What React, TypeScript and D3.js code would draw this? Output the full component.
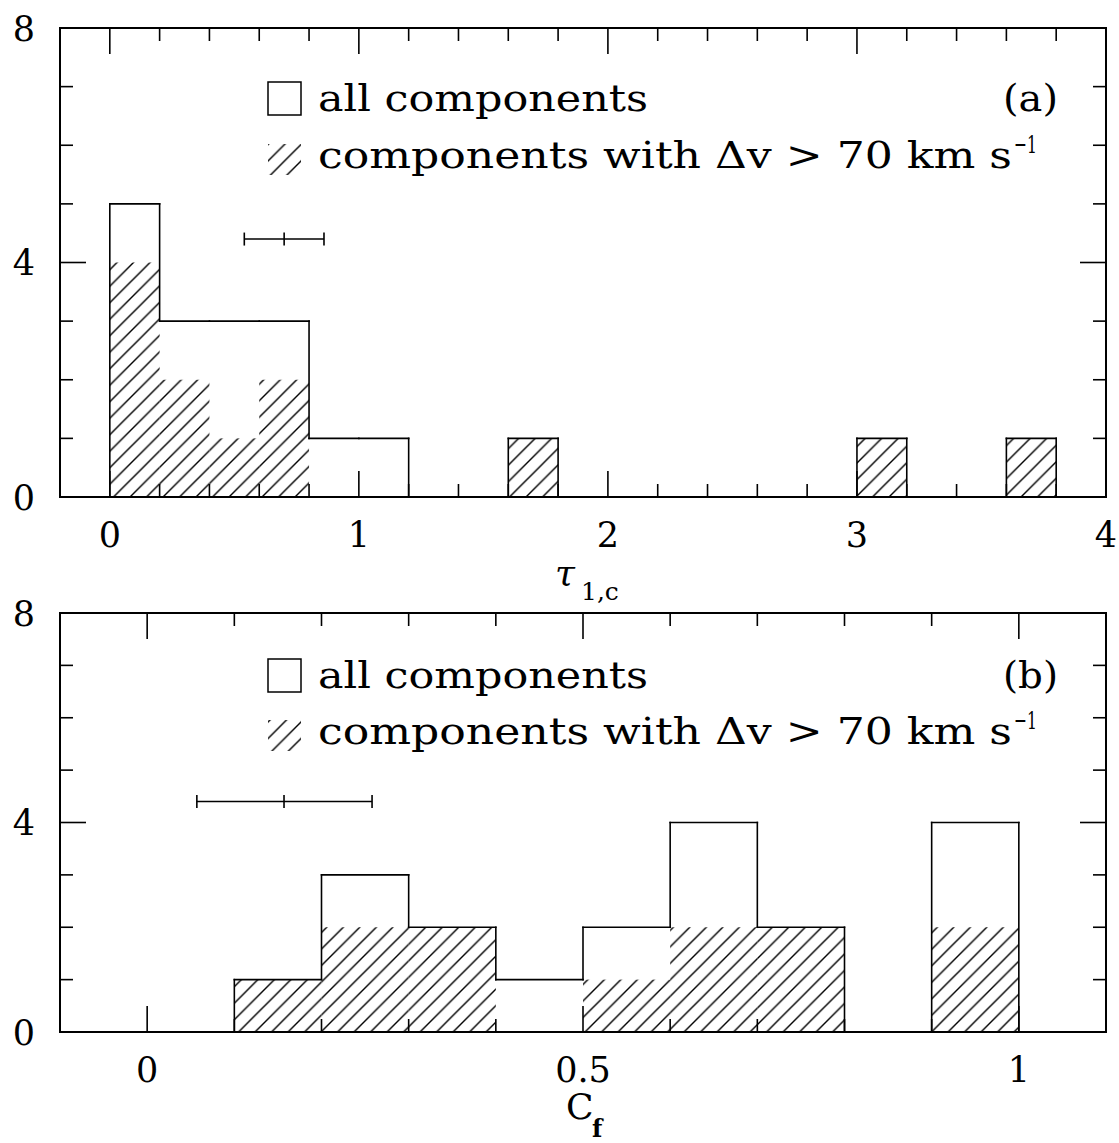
import React from "react";
import * as d3 from "d3";

// ---------- data ----------
const tauBinStart = [0.0, 0.2, 0.4, 0.6, 0.8, 1.0, 1.2, 1.4, 1.6, 1.8, 2.0, 2.2, 2.4, 2.6, 2.8, 3.0, 3.2, 3.4, 3.6];
const tauAll = [5, 3, 3, 3, 1, 1, 0, 0, 1, 0, 0, 0, 0, 0, 0, 1, 0, 0, 1];
const tauFast = [4, 2, 1, 2, 0, 0, 0, 0, 1, 0, 0, 0, 0, 0, 0, 1, 0, 0, 1];
const tauBinWidth = 0.2;
const tauErrBar = [0.54, 0.7, 0.86];
const tauXTickLabels = ["0", "1", "2", "3", "4"];

const cfBinStart = [0.1, 0.2, 0.3, 0.4, 0.5, 0.6, 0.7, 0.8, 0.9];
const cfAll = [1, 3, 2, 1, 2, 4, 2, 0, 4];
const cfFast = [1, 2, 2, 0, 1, 2, 2, 0, 2];
const cfBinWidth = 0.1;
const cfErrBar = [0.057, 0.157, 0.258];
const cfXTickLabels = ["0", "0.5", "1"];

const yTickLabels = ["0", "4", "8"];
const errBarY = 4.4;

const FONT = "DejaVu Serif, Liberation Serif, serif";

type PanelProps = {
  id: string;
  xDomain: [number, number];
  top: number;
  bottom: number;
  binStart: number[];
  binWidth: number;
  all: number[];
  fast: number[];
  errBar: number[];
  xMinorStep: number;
  xMajorStep: number;
  xMax: number;
  xTickLabels: string[];
  tag: string;
  legendBase1: number;
  legendBase2: number;
  title: React.ReactNode;
};

const L = 60;
const R = 1106;

function Panel(p: PanelProps) {
  const x = d3.scaleLinear().domain(p.xDomain).range([L, R]);
  const y = d3.scaleLinear().domain([0, 8]).range([p.bottom, p.top]);
  const eps = 1e-6;

  const xMinor = d3.range(0, p.xMax + eps, p.xMinorStep);
  const isMajorX = (v: number) => Math.abs(v / p.xMajorStep - Math.round(v / p.xMajorStep)) < 1e-6;
  const yTicks = d3.range(0, 8 + eps, 1);
  const MAJ = 26;
  const MIN = 13;

  const n = p.all.length;
  const segs: [number, number, number, number][] = [];
  for (let i = 0; i <= n; i++) {
    const prev = i > 0 ? p.all[i - 1] : 0;
    const cur = i < n ? p.all[i] : 0;
    const ex = i < n ? p.binStart[i] : p.binStart[n - 1] + p.binWidth;
    if (prev !== cur) segs.push([x(ex), y(prev), x(ex), y(cur)]);
    if (i < n && cur > 0) segs.push([x(p.binStart[i]), y(cur), x(p.binStart[i] + p.binWidth), y(cur)]);
  }

  const patId = "hatch-" + p.id;
  const sp = 16.5;

  return (
    <g>
      <defs>
        <pattern id={patId} patternUnits="userSpaceOnUse" width={sp} height={sp}>
          <path
            d={`M0,${sp} L${sp},0 M${-sp / 2},${sp / 2} L${sp / 2},${-sp / 2} M${sp / 2},${sp * 1.5} L${sp * 1.5},${sp / 2}`}
            stroke="#000"
            strokeWidth={1.4}
          />
        </pattern>
      </defs>

      {p.fast.map((v, i) =>
        v > 0 ? (
          <rect
            key={"h" + i}
            x={x(p.binStart[i])}
            y={y(v)}
            width={x(p.binStart[i] + p.binWidth) - x(p.binStart[i])}
            height={y(0) - y(v)}
            fill={`url(#${patId})`}
          />
        ) : null
      )}

      {segs.map((s, i) => (
        <line key={"s" + i} x1={s[0]} y1={s[1]} x2={s[2]} y2={s[3]} stroke="#000" strokeWidth={1.6} strokeLinecap="square" />
      ))}

      <rect x={L} y={p.top} width={R - L} height={p.bottom - p.top} fill="none" stroke="#000" strokeWidth={2} />

      {xMinor.map((v, i) => {
        const len = isMajorX(v) ? MAJ : MIN;
        const xx = x(v);
        return (
          <g key={"xt" + i}>
            <line x1={xx} x2={xx} y1={p.bottom} y2={p.bottom - len} stroke="#000" strokeWidth={1.6} />
            <line x1={xx} x2={xx} y1={p.top} y2={p.top + len} stroke="#000" strokeWidth={1.6} />
          </g>
        );
      })}
      {yTicks.map((v, i) => {
        const len = v % 4 === 0 ? MAJ : MIN;
        const yy = y(v);
        return (
          <g key={"yt" + i}>
            <line x1={L} x2={L + len} y1={yy} y2={yy} stroke="#000" strokeWidth={1.6} />
            <line x1={R} x2={R - len} y1={yy} y2={yy} stroke="#000" strokeWidth={1.6} />
          </g>
        );
      })}

      {p.xTickLabels.map((t) => (
        <text key={"xl" + t} x={x(+t)} y={p.bottom + 50} fontFamily={FONT} fontSize={35} textAnchor="middle">
          {t}
        </text>
      ))}
      {yTickLabels.map((t) => (
        <text key={"yl" + t} x={24} y={y(+t) + 12.5} fontFamily={FONT} fontSize={35} textAnchor="middle">
          {t}
        </text>
      ))}

      <g stroke="#000" strokeWidth={1.6}>
        <line x1={x(p.errBar[0])} x2={x(p.errBar[2])} y1={y(errBarY)} y2={y(errBarY)} />
        {p.errBar.map((v, i) => (
          <line key={"eb" + i} x1={x(v)} x2={x(v)} y1={y(errBarY) - 6.5} y2={y(errBarY) + 6.5} />
        ))}
      </g>

      <rect x={268} y={p.legendBase1 - 29} width={33} height={33} fill="none" stroke="#000" strokeWidth={1.5} />
      <text x={318} y={p.legendBase1} fontFamily={FONT} fontSize={38} textLength={330} lengthAdjust="spacingAndGlyphs">
        all components
      </text>
      <rect x={268} y={p.legendBase2 - 24} width={33} height={31} fill={`url(#${patId})`} />
      <text x={318} y={p.legendBase2} fontFamily={FONT} fontSize={38} textLength={694} lengthAdjust="spacingAndGlyphs">
        components with Δv &gt; 70 km s
      </text>
      <text x={1014} y={p.legendBase2 - 15} fontFamily={FONT} fontSize={25} textLength={23} lengthAdjust="spacingAndGlyphs">
        −1
      </text>
      <text x={1058} y={p.legendBase1} fontFamily={FONT} fontSize={38} textLength={55} lengthAdjust="spacingAndGlyphs" textAnchor="end">
        {p.tag}
      </text>

      {p.title}
    </g>
  );
}

export default function App() {
  return (
    <svg width={1119} height={1143} style={{ position: "absolute", left: 0, top: 0, background: "#fff" }}>
      <rect x={0} y={0} width={1119} height={1143} fill="#fff" />
      <Panel
        id="a"
        xDomain={[-0.2, 4]}
        top={28}
        bottom={497}
        binStart={tauBinStart}
        binWidth={tauBinWidth}
        all={tauAll}
        fast={tauFast}
        errBar={tauErrBar}
        xMinorStep={0.2}
        xMajorStep={1}
        xMax={4}
        xTickLabels={tauXTickLabels}
        tag="(a)"
        legendBase1={111}
        legendBase2={168}
        title={
          <g fontFamily={FONT}>
            <text x={555} y={585} fontSize={36} fontStyle="italic">τ</text>
            <text x={581} y={600} fontSize={25}>1,c</text>
          </g>
        }
      />
      <Panel
        id="b"
        xDomain={[-0.1, 1.1]}
        top={613}
        bottom={1032}
        binStart={cfBinStart}
        binWidth={cfBinWidth}
        all={cfAll}
        fast={cfFast}
        errBar={cfErrBar}
        xMinorStep={0.1}
        xMajorStep={0.5}
        xMax={1.1}
        xTickLabels={cfXTickLabels}
        tag="(b)"
        legendBase1={688}
        legendBase2={744}
        title={
          <g fontFamily={FONT}>
            <text x={566} y={1119} fontSize={36}>C</text>
            <text x={592} y={1137} fontSize={24} fontWeight="bold">f</text>
          </g>
        }
      />
    </svg>
  );
}
